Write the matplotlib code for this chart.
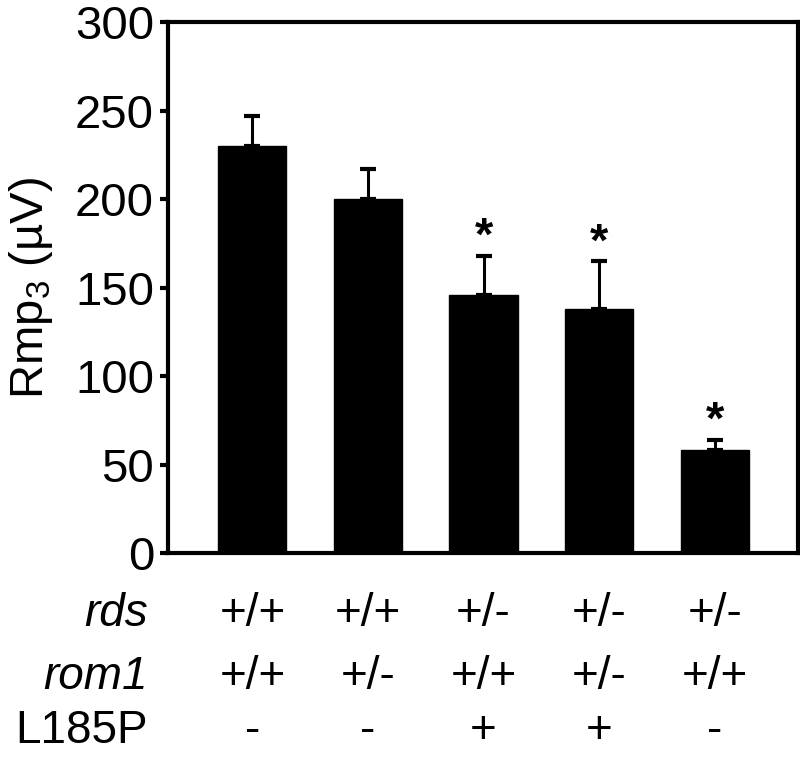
import matplotlib
matplotlib.use('Agg')
from matplotlib import pyplot as plt
import numpy as np

# values
groups = ['1', '2', '3', '4', '5']
means = [230, 200, 146, 138, 58]
errs = [17, 17, 22, 27, 6]
signif = [False, False, True, True, True]
rds = ['+/+', '+/+', '+/-', '+/-', '+/-']
rom1 = ['+/+', '+/-', '+/+', '+/-', '+/+']
l185p = ['-', '-', '+', '+', '-']
yticks = [0, 50, 100, 150, 200, 250, 300]

plt.rcParams['font.family'] = ['Liberation Sans', 'DejaVu Sans']
plt.rcParams['mathtext.default'] = 'regular'

fs = 34
fig = plt.figure(figsize=(8, 7.59), dpi=100)
ax = fig.add_axes([0.21, 0.2714, 0.7875, 0.6996])

x = np.arange(len(groups))
ax.bar(x, means, width=0.59, color='black', edgecolor='black', zorder=2)
ax.errorbar(x, means, yerr=[np.zeros(len(errs)), errs], fmt='none',
            ecolor='black', elinewidth=2.2, capsize=5.5, capthick=3, zorder=1)

for xi, m, e, s in zip(x, means, errs, signif):
    if s:
        ax.annotate('*', (xi, m + e), xytext=(0, 4), textcoords='offset points',
                    ha='center', va='baseline', fontsize=fs, fontweight='bold')

ax.set_xlim(-0.73, 4.72)
ax.set_ylim(0, 300)
ax.set_yticks(yticks)
ax.set_xticks([])
ax.tick_params(axis='y', labelsize=fs, width=3, length=6, direction='out', pad=4)
for sp in ax.spines.values():
    sp.set_linewidth(3)
ax.set_ylabel('Rmp$_3$ (µV)', fontsize=fs)
ax.yaxis.set_label_coords(-0.18, 0.5)

# genotype table below the axis
tfs = 33
rows = [('rds', rds, 614, 'italic'), ('rom1', rom1, 677, 'italic'), ('L185P', l185p, 731, 'normal')]
for name, vals, ypix, style in rows:
    yf = 1 - ypix / 759
    fig.text(148 / 800, yf, name, ha='right', va='center', fontsize=tfs, style=style)
    for xi, v in zip(x, vals):
        xf = fig.transFigure.inverted().transform(ax.transData.transform((xi, 0)))[0]
        fig.text(xf, yf, v, ha='center', va='center', fontsize=tfs)

fig.savefig('out.png', dpi=100)
